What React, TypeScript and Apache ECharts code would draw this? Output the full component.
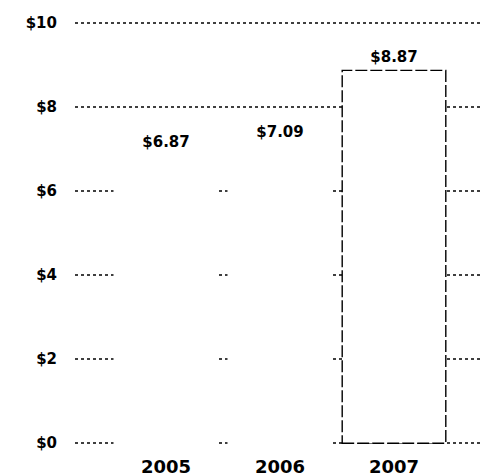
import React, { useEffect, useRef } from "react";
import * as echarts from "echarts";

const categories = ["2005", "2006", "2007"];
const values = [6.87, 7.09, 8.87];
const yMin = 0;
const yMax = 10;
const yInterval = 2;

export default function App() {
  const ref = useRef<HTMLDivElement>(null);
  useEffect(() => {
    if (!ref.current) return;
    const chart = echarts.init(ref.current, null, { renderer: "svg" });
    const labelFont = "'DejaVu Sans', sans-serif";
    chart.setOption({
      animation: false,
      backgroundColor: "#ffffff",
      grid: [
        { left: 75, right: 0, top: 23, bottom: 32 },
        { left: 109, right: 30, top: 22, bottom: 31 },
      ],
      xAxis: [
        { type: "value", gridIndex: 0, show: false, min: 0, max: 1 },
        {
          type: "category",
          gridIndex: 1,
          data: categories,
          axisLine: { show: false },
          axisTick: { show: false },
          axisLabel: {
            margin: 13,
            color: "#000",
            fontFamily: labelFont,
            fontWeight: "bold",
            fontSize: 18,
          },
        },
      ],
      yAxis: [
        {
          type: "value",
          gridIndex: 0,
          min: yMin,
          max: yMax,
          interval: yInterval,
          axisLine: { show: false },
          axisTick: { show: false },
          axisLabel: {
            margin: 18,
            color: "#000",
            fontFamily: labelFont,
            fontWeight: "bold",
            fontSize: 15,
            formatter: (v: number) => "$" + v,
          },
          splitLine: {
            show: true,
            lineStyle: { color: "#000", width: 1.6, type: [3, 3] },
          },
        },
        {
          type: "value",
          gridIndex: 1,
          min: yMin,
          max: yMax,
          interval: yInterval,
          show: false,
          splitLine: { show: false },
        },
      ],
      series: [
        {
          type: "bar",
          xAxisIndex: 1,
          yAxisIndex: 1,
          barWidth: 105,
          z: 5,
          data: values.map((v, i) => ({
            value: v,
            itemStyle:
              i === values.length - 1
                ? {
                    color: "#ffffff",
                    borderColor: "#000",
                    borderWidth: 1.4,
                    borderType: [12, 3],
                  }
                : { color: "#ffffff", borderWidth: 0 },
          })),
          label: {
            show: true,
            position: "top",
            distance: 5,
            color: "#000",
            fontFamily: labelFont,
            fontWeight: "bold",
            fontSize: 15,
            formatter: (p: any) => "$" + Number(p.value).toFixed(2),
          },
        },
      ],
    });
    return () => chart.dispose();
  }, []);
  return <div ref={ref} style={{ width: 481, height: 475, position: "absolute", left: 0, top: 0 }} />;
}
